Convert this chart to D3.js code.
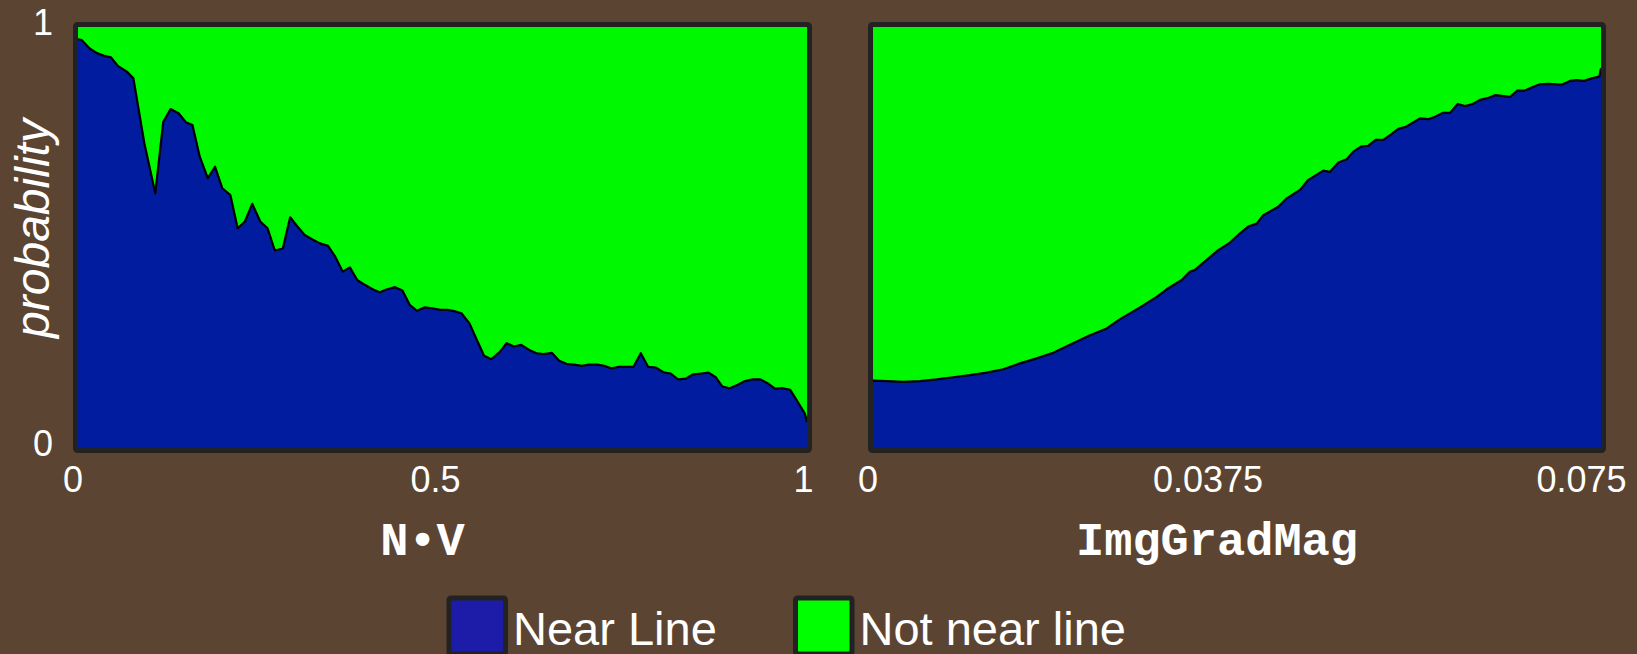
<!DOCTYPE html>
<html>
<head>
<meta charset="utf-8">
<script src="https://cdn.jsdelivr.net/npm/d3@7"></script>
<style>
  html, body { margin: 0; padding: 0; background: #5b4432; }
  svg { display: block; }
</style>
</head>
<body>
<svg id="chart" width="1637" height="654"></svg>
<script>
// ---------------- DATA ----------------
const seriesNames = ["Near Line", "Not near line"];
const yTicks = [0, 1];
const yTitle = "probability";

// Panel 1: N•V
const nvTitle = "N\u2022V";
const nvTicks = [0, 0.5, 1];
const nvX = [0.000,0.005,0.016,0.026,0.035,0.045,0.055,0.067,0.076,0.091,0.106,0.117,0.127,0.138,0.148,0.157,0.167,0.178,0.188,0.198,
  0.209,0.219,0.229,0.239,0.250,0.260,0.270,0.281,0.291,0.301,0.311,0.321,0.332,0.343,0.353,0.363,0.373,0.383,0.394,0.404,
  0.414,0.424,0.435,0.445,0.455,0.465,0.475,0.486,0.497,0.507,0.516,0.526,0.537,0.547,0.557,0.567,0.578,0.588,0.598,0.608,
  0.619,0.629,0.639,0.650,0.660,0.670,0.680,0.691,0.701,0.712,0.722,0.732,0.742,0.753,0.762,0.772,0.782,0.793,0.803,0.813,
  0.823,0.834,0.844,0.855,0.865,0.875,0.884,0.894,0.905,0.915,0.926,0.936,0.946,0.956,0.967,0.977,0.987,0.997,1.000];
const nvNear = [0.971,0.969,0.949,0.938,0.932,0.928,0.907,0.894,0.878,0.724,0.605,0.775,0.805,0.795,0.774,0.767,0.692,0.641,0.668,0.617,
  0.601,0.522,0.538,0.580,0.538,0.522,0.469,0.474,0.548,0.526,0.506,0.496,0.486,0.480,0.454,0.419,0.429,0.399,0.387,0.377,
  0.370,0.377,0.382,0.374,0.340,0.326,0.334,0.332,0.328,0.328,0.325,0.320,0.296,0.257,0.219,0.211,0.227,0.249,0.241,0.245,
  0.233,0.225,0.223,0.226,0.207,0.200,0.198,0.195,0.198,0.198,0.195,0.189,0.193,0.193,0.193,0.225,0.193,0.191,0.180,0.177,
  0.163,0.165,0.175,0.177,0.179,0.168,0.146,0.142,0.150,0.159,0.163,0.163,0.154,0.141,0.142,0.138,0.110,0.082,0.062];

// Panel 2: ImgGradMag
const igmTitle = "ImgGradMag";
const igmTicks = [0, 0.0375, 0.075];
const igmX = [0.00000,0.00141,0.00312,0.00484,0.00656,0.00827,0.00999,0.01171,0.01342,0.01514,0.01686,0.01857,0.02029,0.02236,
  0.02408,0.02545,0.02751,0.02923,0.03026,0.03180,0.03266,0.03317,0.03438,0.03557,0.03678,0.03781,0.03866,0.03953,0.04021,
  0.04175,0.04262,0.04399,0.04485,0.04639,0.04708,0.04794,0.04880,0.04948,0.05027,0.05103,0.05179,0.05257,0.05337,0.05412,
  0.05491,0.05635,0.05721,0.05790,0.05869,0.05944,0.06024,0.06099,0.06178,0.06253,0.06333,0.06408,0.06563,0.06638,0.06717,
  0.06803,0.06872,0.06957,0.07095,0.07181,0.07250,0.07325,0.07404,0.07482,0.07500];
const igmNear = [0.160,0.159,0.157,0.159,0.163,0.168,0.173,0.179,0.187,0.201,0.213,0.226,0.245,0.268,
  0.284,0.306,0.334,0.359,0.377,0.399,0.419,0.423,0.447,0.470,0.488,0.510,0.526,0.533,0.553,
  0.573,0.593,0.613,0.637,0.659,0.656,0.678,0.686,0.704,0.716,0.718,0.732,0.732,0.745,0.758,
  0.763,0.783,0.781,0.787,0.796,0.796,0.817,0.812,0.817,0.827,0.831,0.838,0.834,0.849,0.849,
  0.858,0.864,0.865,0.863,0.872,0.874,0.872,0.878,0.882,0.902];

// ---------------- DRAW ----------------
const svg = d3.select("#chart");
const BG = "#5b4432";
const BLUE = "#021c9f", GREEN = "#00f900";
const LEG_BLUE = "#1c1ca8", LEG_GREEN = "#00ff00";
const FRAME = "#222222";
const sansFont = "Arial, 'Liberation Sans', sans-serif";
const monoFont = "'Courier New', 'Liberation Mono', monospace";

svg.append("rect").attr("width", 1637).attr("height", 654).attr("fill", BG);

const plotTop = 27, plotBottom = 448;
const y = d3.scaleLinear().domain([0, 1]).range([plotBottom, plotTop]);

const panels = [
  { xs: nvX, near: nvNear, title: nvTitle, ticks: nvTicks, domain: [0, 1], left: 78, right: 807,
    tickFmt: d => String(d), labelRange: [72.5, 435, 803] },
  { xs: igmX, near: igmNear, title: igmTitle, ticks: igmTicks, domain: [0, 0.075], left: 873, right: 1601,
    tickFmt: d => String(d), labelRange: [867.5, 1207.5, 1581] }
];

panels.forEach((p, pi) => {
  const x = d3.scaleLinear().domain(p.domain).range([p.left, p.right]);
  const table = p.xs.map((xv, i) => ({ x: xv, near: p.near[i], notNear: 1 - p.near[i] }));
  const stack = d3.stack().keys(["near", "notNear"])(table);
  const area = d3.area()
    .x(d => x(d.data.x))
    .y0(d => y(d[0]))
    .y1(d => y(d[1]));
  const g = svg.append("g");
  g.selectAll("path.layer").data(stack).join("path")
    .attr("class", "layer")
    .attr("fill", (d, i) => i === 0 ? BLUE : GREEN)
    .attr("d", area);
  const line = d3.line().x(d => x(d.x)).y(d => y(d.near));
  g.append("path").datum(table)
    .attr("fill", "none").attr("stroke", "#000").attr("stroke-width", 2.2)
    .attr("stroke-linejoin", "round")
    .attr("d", line);
  // frame
  g.append("rect")
    .attr("x", p.left - 2.5).attr("y", plotTop - 2.5)
    .attr("width", p.right - p.left + 5).attr("height", plotBottom - plotTop + 5)
    .attr("rx", 2)
    .attr("fill", "none").attr("stroke", FRAME).attr("stroke-width", 5);

  // x axis labels (positions follow the reference's label placement)
  const xl = d3.scaleLinear().domain(p.ticks).range(p.labelRange);
  const ax = svg.append("g").attr("transform", `translate(0,${plotBottom})`)
    .call(d3.axisBottom(xl).tickValues(p.ticks).tickFormat(p.tickFmt).tickSize(0).tickPadding(18));
  ax.select(".domain").remove();
  ax.selectAll("text").attr("fill", "#fff").style("font-family", sansFont).style("font-size", "36px");

  // axis title
  svg.append("text")
    .attr("x", (p.left + p.right) / 2 - 20).attr("y", 555)
    .attr("text-anchor", "middle")
    .attr("fill", "#fff")
    .style("font-family", monoFont).style("font-weight", "bold").style("font-size", "47px")
    .text(p.title);

  if (pi === 0) {
    const ay = svg.append("g").attr("transform", `translate(${p.left},0)`)
      .call(d3.axisLeft(y).tickValues(yTicks).tickFormat(d3.format("d")).tickSize(0).tickPadding(25));
    ay.select(".domain").remove();
    ay.selectAll("text").attr("fill", "#fff").attr("dy", "0.22em")
      .style("font-family", sansFont).style("font-size", "36px");
  }
});

// y title
svg.append("text")
  .attr("transform", `translate(49,${(plotTop + plotBottom) / 2 - 9}) rotate(-90)`)
  .attr("text-anchor", "middle")
  .attr("fill", "#fff")
  .style("font-family", sansFont).style("font-style", "italic").style("font-size", "48px")
  .text(yTitle);

// legend
const legendX = [449, 795.5];
const legendColors = [LEG_BLUE, LEG_GREEN];
const lg = svg.append("g");
seriesNames.forEach((name, i) => {
  lg.append("rect")
    .attr("x", legendX[i]).attr("y", 598)
    .attr("width", 56.5).attr("height", 56)
    .attr("rx", 2)
    .attr("fill", legendColors[i]).attr("stroke", FRAME).attr("stroke-width", 5);
  lg.append("text")
    .attr("x", legendX[i] + 64).attr("y", 645)
    .attr("fill", "#fff")
    .style("font-family", sansFont).style("font-size", "47px")
    .text(name);
});
</script>
</body>
</html>
